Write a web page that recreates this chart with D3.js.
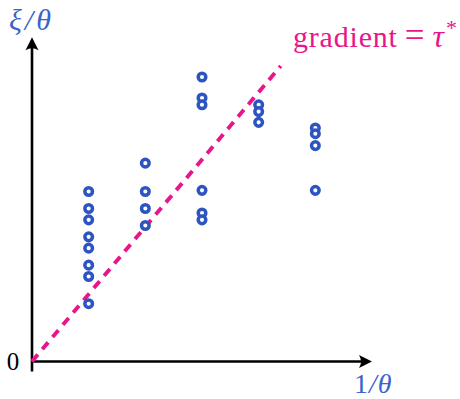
<!DOCTYPE html>
<html>
<head>
<meta charset="utf-8">
<script src="https://cdn.jsdelivr.net/npm/d3@7"></script>
<style>
  html, body { margin: 0; padding: 0; background: #fff; }
  svg { display: block; }
</style>
</head>
<body>
<svg id="chart" width="460" height="399"></svg>
<script>
// Each column of observations sits at an integer value of 1/θ
const xValues = [1, 2, 3, 4, 5];
// ξ/θ readings for each column
const column1 = [3.0, 2.7, 2.5, 2.2, 2.0, 1.7, 1.5, 1.02];
const column2 = [3.5, 3.0, 2.7, 2.4];
const column3 = [5.02, 4.65, 4.53, 3.02, 2.62, 2.5];
const column4 = [4.53, 4.41, 4.22];
const column5 = [4.12, 4.02, 3.81, 3.02];
const columns = [column1, column2, column3, column4, column5];
// Slope of the reference line through the origin and where it stops
const gradient = 1.188;
const lineEnd = 4.39;

const svg = d3.select("#chart");
const blue = "#2c55c2";
const labelBlue = "#3b63cc";
const magenta = "#e8168b";

const x = d3.scaleLinear().domain([0, 6]).range([32, 372]);
const y = d3.scaleLinear().domain([0, 6]).range([361.5, 21.5]);

const points = [];
columns.forEach((col, i) => col.forEach(v => points.push({ x: xValues[i], y: v })));

// Axes with filled arrowheads
const arrowPath = "M0,0 L-13,-6.5 Q-9,0 -13,6.5 Z";
svg.append("line")
  .attr("x1", x(0)).attr("y1", y(0)).attr("x2", x(6) - 6).attr("y2", y(0))
  .attr("stroke", "#000").attr("stroke-width", 2.6);
svg.append("line")
  .attr("x1", x(0)).attr("y1", y(0) + 10).attr("x2", x(0)).attr("y2", y(5.72) + 6)
  .attr("stroke", "#000").attr("stroke-width", 2.6);
svg.append("path").attr("d", arrowPath)
  .attr("transform", `translate(${x(6)},${y(0)})`).attr("fill", "#000");
svg.append("path").attr("d", arrowPath)
  .attr("transform", `translate(${x(0)},${y(5.72)}) rotate(-90)`).attr("fill", "#000");

// Dashed reference line: ξ/θ = τ* · (1/θ)
svg.append("line")
  .attr("x1", x(0)).attr("y1", y(0))
  .attr("x2", x(lineEnd)).attr("y2", y(gradient * lineEnd))
  .attr("stroke", magenta).attr("stroke-width", 3.9)
  .attr("stroke-dasharray", "9,7");

// Observations
svg.append("g").selectAll("circle").data(points).join("circle")
  .attr("cx", d => x(d.x)).attr("cy", d => y(d.y))
  .attr("r", 3.8)
  .attr("fill", "#fff").attr("stroke", blue).attr("stroke-width", 3.5);

// Labels
const serif = "'Liberation Serif', 'DejaVu Serif', serif";
svg.append("text").attr("x", 13).attr("y", y(0) + 8.5)
  .attr("text-anchor", "middle")
  .attr("font-family", serif).attr("font-size", 25).attr("fill", "#000").text("0");

svg.append("text").attr("x", 9).attr("y", 30)
  .attr("font-family", serif).attr("font-size", 30).attr("font-style", "italic")
  .attr("letter-spacing", 3)
  .attr("fill", labelBlue).text("ξ/θ");

svg.append("text").attr("x", 354).attr("y", 393)
  .attr("font-family", serif).attr("font-size", 28).attr("fill", labelBlue)
  .attr("letter-spacing", 1)
  .call(t => {
    t.append("tspan").text("1");
    t.append("tspan").attr("font-style", "italic").text("/θ");
  });

svg.append("text").attr("x", 293).attr("y", 47)
  .attr("font-family", serif).attr("font-size", 30).attr("fill", magenta)
  .call(t => {
    t.append("tspan").attr("letter-spacing", 0.8).text("gradient");
    t.append("tspan").attr("dx", 7).attr("font-size", 35).text("=");
    t.append("tspan").attr("dx", 8).attr("font-style", "italic").attr("font-size", 32).text("τ");
    t.append("tspan").attr("font-size", 22).attr("dy", -12).attr("dx", 2).text("*");
  });
</script>
</body>
</html>
